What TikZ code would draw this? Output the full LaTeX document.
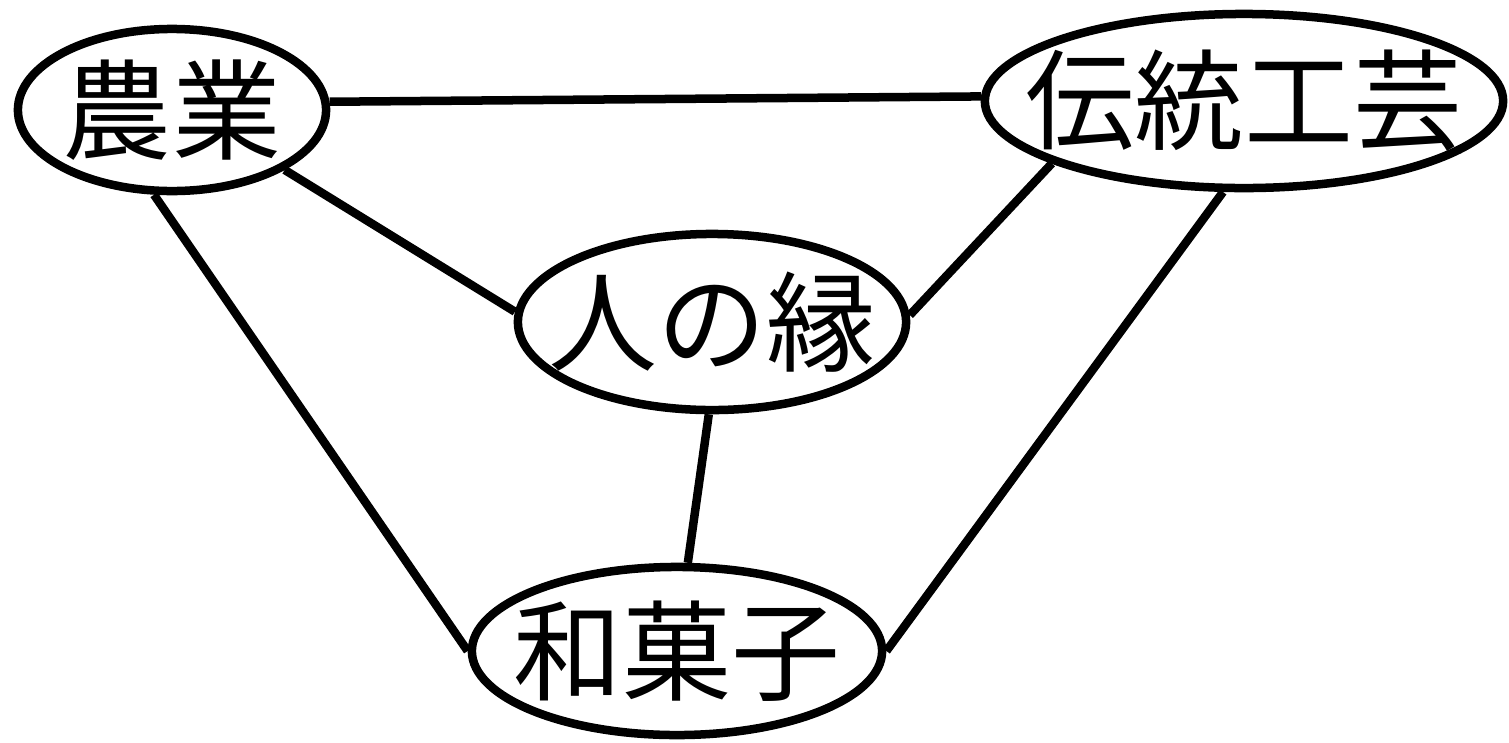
\documentclass[tikz,border=0pt]{standalone}
\usepackage{fontspec}
\newfontfamily\cjk{Noto Sans CJK JP}
\usetikzlibrary{shapes.geometric}
\begin{document}
\begin{tikzpicture}[x=0.01cm,y=-0.01cm,
  oval/.style={ellipse,draw,line width=0.085cm,inner sep=0pt},
  txt/.style={font=\cjk\fontsize{31}{31}\selectfont,inner sep=0pt},
  link/.style={line width=0.085cm}]
\useasboundingbox (0,0) rectangle (1509,742);
\node[oval,minimum width=3.08cm,minimum height=1.62cm,label={[txt]center:農業}] (nogyo) at (172,110) {};
\node[oval,minimum width=5.18cm,minimum height=1.74cm,label={[txt]center:伝統工芸}] (dento) at (1244,101) {};
\node[oval,minimum width=3.88cm,minimum height=1.76cm,label={[txt]center:人の縁}] (en) at (712,322) {};
\node[oval,minimum width=4.10cm,minimum height=1.68cm,label={[txt]center:和菓子}] (wagashi) at (677,651) {};
\draw[link] (nogyo.3) -- (dento.179);
\draw[link] (nogyo.332) -- (en.177);
\draw[link] (nogyo.258) -- (wagashi.180);
\draw[link] (dento.198) -- (en.2);
\draw[link] (dento.257) -- (wagashi.0);
\draw[link] (en.268) -- (wagashi.83);
\end{tikzpicture}
\end{document}
